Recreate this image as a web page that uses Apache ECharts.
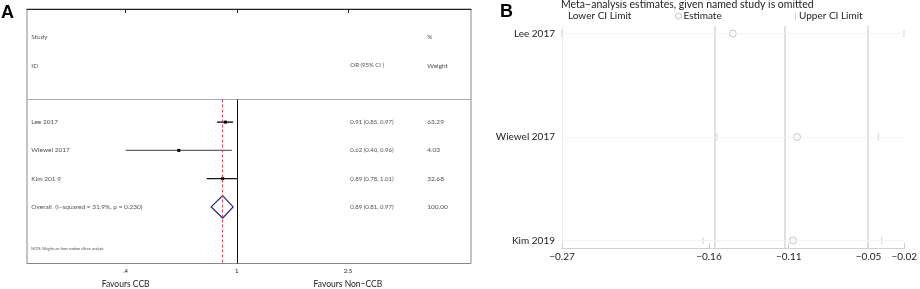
<!DOCTYPE html>
<html>
<head>
<meta charset="utf-8">
<script src="https://cdn.jsdelivr.net/npm/echarts@6.0.0/dist/echarts.min.js"></script>
<style>
  html, body { margin: 0; padding: 0; background: #fff; }
  #chart { width: 920px; height: 289px; }
</style>
</head>
<body>
<div id="chart"></div>
<script>
// panel A: forest plot (odds ratios)
const studies = ['Lee 2017', 'Wiewel 2017', 'Kim 201 9'];
const orEst = [0.91, 0.62, 0.89];
const orLow = [0.85, 0.40, 0.78];
const orHigh = [0.97, 0.96, 1.01];
const weights = ['63.29', '4.03', '32.68'];
const overallOR = [0.89, 0.81, 0.97]; // est, low, high
const overallLabel = 'Overall  (I\u2212squared = 31.9%, p = 0.230)';
const overallWeight = '100.00';
const orTicks = [0.4, 1, 2.5];
const orTickLabels = ['.4', '1', '2.5'];
const favourLabels = ['Favours CCB', '', 'Favours Non\u2212CCB'];

// panel B: leave-one-out
const omitStudies = ['Lee 2017', 'Wiewel 2017', 'Kim 2019'];
const omitEst = [-0.1471, -0.1009, -0.1038];
const omitLow = [-0.27, -0.1586, -0.1686];
const omitHigh = [-0.0240, -0.0424, -0.0400];
const pooledLines = [-0.1643, -0.1069, -0.0495];
const bTicks = [-0.27, -0.1643, -0.1069, -0.0495, -0.0238];

const font = 'Lato';
const lnMin = -1.7296, lnMax = 1.9308;
// text columns of the table (ln-OR space)
const colLeft = -1.694, colOR = 0.936, colW = 1.5705;

const fmt2 = v => v.toFixed(2);
const textRows = [];
function addText(x, y, txt, size) {
    textRows.push({ value: [x, y], label: { formatter: txt, fontSize: size || 6.5 } });
}
addText(colLeft, 1, 'Study');
addText(colLeft, 2, 'ID');
addText(colOR, 2, 'OR (95% CI )', 6);
addText(colW, 1, '%');
addText(colW, 2, 'Weight');
studies.forEach((s, i) => {
    addText(colLeft, 4 + i, s);
    addText(colOR, 4 + i, `${fmt2(orEst[i])} (${fmt2(orLow[i])}, ${fmt2(orHigh[i])})`, 6);
    addText(colW, 4 + i, weights[i]);
});
addText(colLeft, 7, overallLabel);
addText(colOR, 7, `${fmt2(overallOR[0])} (${fmt2(overallOR[1])}, ${fmt2(overallOR[2])})`, 6);
addText(colW, 7, overallWeight);
addText(colLeft, 8.5, 'NOTE: Weights are from random effects analysis', 3.4);

const ciData = studies.map((s, i) => [Math.log(orLow[i]), Math.log(orHigh[i]), Math.log(orEst[i]), 4 + i]);
const ciColors = ['#111', '#666', '#111'];

const option = {
    animation: false,
    title: {
        text: 'Meta\u2212analysis estimates, given named study is omitted',
        left: 561, top: -1, padding: 0,
        textStyle: { fontSize: 10.5, fontWeight: 'normal', color: '#222', fontFamily: font }
    },
    legend: [
        { data: ['Lower CI Limit'], left: 562, top: 11, itemWidth: 1, itemHeight: 7, padding: 0,
          itemStyle: { opacity: 0 }, textStyle: { fontSize: 10, color: '#222', fontFamily: font } },
        { data: ['Estimate'], left: 675, top: 11, itemWidth: 6, itemHeight: 6, padding: 0,
          itemStyle: { color: '#fff', borderColor: '#b4b4b4', borderWidth: 1 },
          textStyle: { fontSize: 10, color: '#222', fontFamily: font, padding: [0, 0, 0, -3] } },
        { data: ['Upper CI Limit'], left: 795, top: 11, itemWidth: 1, itemHeight: 7, padding: 0,
          textStyle: { fontSize: 10, color: '#222', fontFamily: font, padding: [0, 0, 0, -2] } }
    ],
    graphic: [
        { type: 'text', left: 1, top: 4, style: { text: 'A', fontSize: 18, fontWeight: 'bold', fontFamily: 'Liberation Sans', fill: '#000' } },
        { type: 'text', left: 500, top: 3, style: { text: 'B', fontSize: 18, fontWeight: 'bold', fontFamily: 'Liberation Sans', fill: '#000' } }
    ],
    grid: [
        { left: 27, top: 9, width: 444, height: 255, show: true, borderColor: '#888', borderWidth: 1 },
        { left: 562, top: 26, right: 13, bottom: 41 }
    ],
    xAxis: [
        {
            gridIndex: 0, type: 'value', min: lnMin, max: lnMax,
            axisLine: { show: true, lineStyle: { color: '#222', width: 1 } },
            axisTick: { show: true, length: 4, customValues: orTicks.map(Math.log), lineStyle: { color: '#222' } },
            splitLine: { show: false },
            axisLabel: {
                margin: 4,
                customValues: orTicks.map(Math.log),
                formatter: v => {
                    const i = orTicks.findIndex(t => Math.abs(Math.log(t) - v) < 1e-6);
                    if (i < 0) return '';
                    return favourLabels[i] ? `{t|${orTickLabels[i]}}\n{f|${favourLabels[i]}}` : `{t|${orTickLabels[i]}}`;
                },
                rich: {
                    t: { fontSize: 6, color: '#222', lineHeight: 8, fontFamily: font },
                    f: { fontSize: 8.5, color: '#222', lineHeight: 18, fontFamily: font }
                }
            }
        },
        {
            gridIndex: 1, type: 'value', min: -0.27, max: -0.0238,
            axisLine: { show: true, lineStyle: { color: '#d0d0d0', width: 1 } },
            axisTick: { show: true, inside: true, length: 5, customValues: bTicks, lineStyle: { color: '#d0d0d0' } },
            splitLine: { show: false },
            axisLabel: {
                customValues: bTicks, margin: 4, fontSize: 10, color: '#222', fontFamily: font,
                formatter: v => v.toFixed(2).replace('-', '\u2212')
            }
        }
    ],
    yAxis: [
        {
            gridIndex: 0, type: 'value', inverse: true, min: 0, max: 9,
            axisLine: { show: false }, axisTick: { show: false }, axisLabel: { show: false }, splitLine: { show: false }
        },
        {
            gridIndex: 1, type: 'value', inverse: true, min: 0.927, max: 3.073,
            axisLine: { show: true, lineStyle: { color: '#ececec' } },
            axisTick: { show: false }, splitLine: { show: false },
            axisLabel: {
                customValues: [1, 2, 3], margin: 7, fontSize: 10, color: '#222', fontFamily: font,
                formatter: v => omitStudies[Math.round(v) - 1] || ''
            }
        }
    ],
    series: [
        // reference lines of panel A
        {
            type: 'line', xAxisIndex: 0, yAxisIndex: 0, data: [], silent: true,
            markLine: {
                symbol: 'none', silent: true, label: { show: false }, animation: false,
                data: [
                    [{ coord: [lnMin, 3.2], lineStyle: { color: '#aaa', width: 1, type: 'solid' } }, { coord: [lnMax, 3.2] }],
                    [{ coord: [0, 3.2], lineStyle: { color: '#111', width: 1, type: 'solid' } }, { coord: [0, 9] }],
                    [{ coord: [Math.log(overallOR[0]), 3.2], lineStyle: { color: '#dd4a62', width: 1, type: [3, 2] } }, { coord: [Math.log(overallOR[0]), 9] }]
                ]
            }
        },
        {
            type: 'custom', xAxisIndex: 0, yAxisIndex: 0, data: ciData,
            renderItem: (params, api) => {
                const y = api.value(3);
                const lo = api.coord([api.value(0), y]);
                const hi = api.coord([api.value(1), y]);
                const est = api.coord([api.value(2), y]);
                return {
                    type: 'group', children: [
                        { type: 'line', shape: { x1: lo[0], y1: lo[1], x2: hi[0], y2: hi[1] }, style: { stroke: ciColors[params.dataIndex], lineWidth: 1.4 } },
                        { type: 'rect', shape: { x: est[0] - 1.5, y: est[1] - 1.5, width: 3, height: 3 }, style: { fill: '#000' } }
                    ]
                };
            }
        },
        {
            type: 'custom', xAxisIndex: 0, yAxisIndex: 0,
            data: [[Math.log(overallOR[0]), Math.log(overallOR[1]), Math.log(overallOR[2]), 7]],
            renderItem: (params, api) => {
                const y = api.value(3);
                const c = api.coord([api.value(0), y]);
                const l = api.coord([api.value(1), y]);
                const r = api.coord([api.value(2), y]);
                const h = 11.3;
                return {
                    type: 'polygon',
                    shape: { points: [[l[0], l[1]], [c[0], c[1] - h], [r[0], r[1]], [c[0], c[1] + h]] },
                    style: { fill: 'none', stroke: '#22227a', lineWidth: 1.2 }
                };
            }
        },
        {
            type: 'scatter', xAxisIndex: 0, yAxisIndex: 0, symbolSize: 0, data: textRows, silent: true,
            label: { show: true, position: 'right', distance: 0, color: '#222', fontFamily: font }
        },
        // panel B
        {
            type: 'line', xAxisIndex: 1, yAxisIndex: 1, data: [], silent: true,
            markLine: {
                symbol: 'none', silent: true, label: { show: false }, animation: false,
                data: pooledLines.map(v => ({ xAxis: v, lineStyle: { color: '#d6d6d6', width: 1.5, type: 'solid' } }))
                    .concat([1, 2, 3].map(v => ({ yAxis: v, lineStyle: { color: '#f3f3f3', width: 1, type: 'solid' } })))
            }
        },
        {
            name: 'Lower CI Limit', type: 'scatter', xAxisIndex: 1, yAxisIndex: 1,
            symbol: 'rect', symbolSize: [1, 7], itemStyle: { color: '#c4c4c4' },
            data: omitLow.map((v, i) => [v, i + 1])
        },
        {
            name: 'Estimate', type: 'scatter', xAxisIndex: 1, yAxisIndex: 1,
            symbol: 'circle', symbolSize: 7, itemStyle: { color: '#fff', borderColor: '#b4b4b4', borderWidth: 1 },
            data: omitEst.map((v, i) => [v, i + 1])
        },
        {
            name: 'Upper CI Limit', type: 'scatter', xAxisIndex: 1, yAxisIndex: 1,
            symbol: 'rect', symbolSize: [1, 7], itemStyle: { color: '#c4c4c4' },
            data: omitHigh.map((v, i) => [v, i + 1])
        }
    ]
};

const myChart = echarts.init(document.getElementById('chart'), null, { renderer: 'canvas' });
myChart.setOption(option);
</script>
</body>
</html>
